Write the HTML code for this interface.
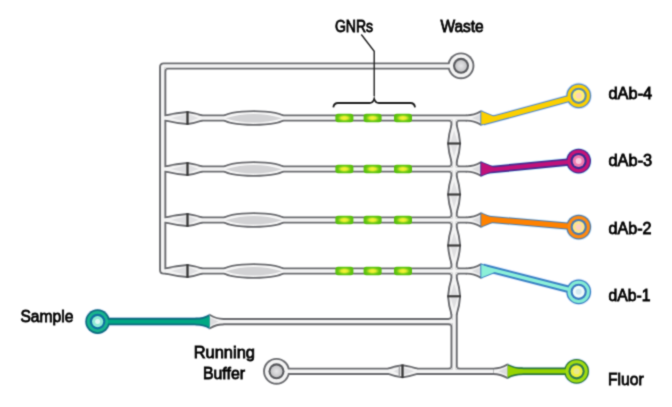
<!DOCTYPE html>
<html><head><meta charset="utf-8"><style>
html,body{margin:0;padding:0;background:#fff;}
#c{position:relative;width:672px;height:407px;overflow:hidden;background:#fff;}
svg{position:absolute;left:0;top:0;}
text{font-family:"Liberation Sans",sans-serif;font-size:16.5px;fill:#000;font-weight:normal;stroke:#000;stroke-width:0.8px;}
</style></head><body><div id="c"><svg width="672" height="407" viewBox="0 0 672 407"><defs><radialGradient id="gp" cx="50%" cy="50%" r="50%"><stop offset="0" stop-color="#e6e6e8"/><stop offset="1" stop-color="#c4c4c6"/></radialGradient><radialGradient id="gnr" cx="50%" cy="50%" r="50%"><stop offset="0" stop-color="#fbf43c"/><stop offset="0.35" stop-color="#e4ec2c"/><stop offset="0.72" stop-color="#6cc816"/><stop offset="1" stop-color="#56c00a"/></radialGradient><filter id="bl" x="0" y="0" width="100%" height="100%" color-interpolation-filters="sRGB"><feConvolveMatrix order="3" kernelMatrix="0.0276 0.1109 0.0276 0.1109 0.4462 0.1109 0.0276 0.1109 0.0276" divisor="1" edgeMode="duplicate"/></filter></defs><g filter="url(#bl)"><rect width="672" height="407" fill="#fff"/><path d="M467,271.0 H163.7 Q162.7,271.0 162.7,270.0 V67.0 Q162.7,66.0 163.7,66.0 H461" fill="none" stroke="#6b6c70" stroke-width="7.2" stroke-linejoin="round"/><path d="M162.7,118.0 H467" fill="none" stroke="#6b6c70" stroke-width="7.2" stroke-linejoin="round"/><path d="M162.7,169.0 H467" fill="none" stroke="#6b6c70" stroke-width="7.2" stroke-linejoin="round"/><path d="M162.7,220.0 H467" fill="none" stroke="#6b6c70" stroke-width="7.2" stroke-linejoin="round"/><path d="M454.1,118.0 V371.3" fill="none" stroke="#6b6c70" stroke-width="7.2" stroke-linejoin="round"/><path d="M209.5,321.6 H454.1" fill="none" stroke="#6b6c70" stroke-width="7.2" stroke-linejoin="round"/><path d="M276.5,371.3 H493" fill="none" stroke="#6b6c70" stroke-width="7.2" stroke-linejoin="round"/><path d="M448.3,121.6 L450.5,121.6 L450.5,123.8 A2.2,2.2 0 0 0 448.3,121.6 Z" fill="#6b6c70"/><path d="M459.9,121.6 L457.7,121.6 L457.7,123.8 A2.2,2.2 0 0 1 459.9,121.6 Z" fill="#6b6c70"/><path d="M448.3,165.4 L450.5,165.4 L450.5,163.2 A2.2,2.2 0 0 1 448.3,165.4 Z" fill="#6b6c70"/><path d="M459.9,165.4 L457.7,165.4 L457.7,163.2 A2.2,2.2 0 0 0 459.9,165.4 Z" fill="#6b6c70"/><path d="M448.3,172.6 L450.5,172.6 L450.5,174.8 A2.2,2.2 0 0 0 448.3,172.6 Z" fill="#6b6c70"/><path d="M459.9,172.6 L457.7,172.6 L457.7,174.8 A2.2,2.2 0 0 1 459.9,172.6 Z" fill="#6b6c70"/><path d="M448.3,216.4 L450.5,216.4 L450.5,214.2 A2.2,2.2 0 0 1 448.3,216.4 Z" fill="#6b6c70"/><path d="M459.9,216.4 L457.7,216.4 L457.7,214.2 A2.2,2.2 0 0 0 459.9,216.4 Z" fill="#6b6c70"/><path d="M448.3,223.6 L450.5,223.6 L450.5,225.8 A2.2,2.2 0 0 0 448.3,223.6 Z" fill="#6b6c70"/><path d="M459.9,223.6 L457.7,223.6 L457.7,225.8 A2.2,2.2 0 0 1 459.9,223.6 Z" fill="#6b6c70"/><path d="M448.3,267.4 L450.5,267.4 L450.5,265.2 A2.2,2.2 0 0 1 448.3,267.4 Z" fill="#6b6c70"/><path d="M459.9,267.4 L457.7,267.4 L457.7,265.2 A2.2,2.2 0 0 0 459.9,267.4 Z" fill="#6b6c70"/><path d="M448.3,274.6 L450.5,274.6 L450.5,276.8 A2.2,2.2 0 0 0 448.3,274.6 Z" fill="#6b6c70"/><path d="M459.9,274.6 L457.7,274.6 L457.7,276.8 A2.2,2.2 0 0 1 459.9,274.6 Z" fill="#6b6c70"/><path d="M448.3,318 L450.5,318 L450.5,315.8 A2.2,2.2 0 0 1 448.3,318 Z" fill="#6b6c70"/><path d="M448.3,325.2 L450.5,325.2 L450.5,327.4 A2.2,2.2 0 0 0 448.3,325.2 Z" fill="#6b6c70"/><path d="M448.3,367.7 L450.5,367.7 L450.5,365.5 A2.2,2.2 0 0 1 448.3,367.7 Z" fill="#6b6c70"/><path d="M459.9,367.7 L457.7,367.7 L457.7,365.5 A2.2,2.2 0 0 0 459.9,367.7 Z" fill="#6b6c70"/><path d="M168.5,69.6 L166.3,69.6 L166.3,71.8 A2.2,2.2 0 0 1 168.5,69.6 Z" fill="#6b6c70"/><path d="M166,116.3 Q176.75,113.65 187.5,112.9 Q194.5,113.92 201.5,116.3 L201.5,119.7 Q194.5,122.08 187.5,123.1 Q176.75,122.35 166,119.7 Z" fill="#6b6c70" stroke="#6b6c70" stroke-width="3.8" stroke-linejoin="round"/><ellipse cx="253.7" cy="118.0" rx="30.2" ry="5.9" fill="#6b6c70" stroke="#6b6c70" stroke-width="3.8"/><path d="M467,116.3 Q474.15,116.3 481.3,112.2 L481.3,123.8 Q474.15,119.7 467,119.7 Z" fill="#6b6c70" stroke="#6b6c70" stroke-width="3.8" stroke-linejoin="round"/><path d="M166,167.3 Q176.75,164.65 187.5,163.9 Q194.5,164.92 201.5,167.3 L201.5,170.7 Q194.5,173.08 187.5,174.1 Q176.75,173.35 166,170.7 Z" fill="#6b6c70" stroke="#6b6c70" stroke-width="3.8" stroke-linejoin="round"/><ellipse cx="253.7" cy="169.0" rx="30.2" ry="5.9" fill="#6b6c70" stroke="#6b6c70" stroke-width="3.8"/><path d="M467,167.3 Q474.15,167.3 481.3,163.2 L481.3,174.8 Q474.15,170.7 467,170.7 Z" fill="#6b6c70" stroke="#6b6c70" stroke-width="3.8" stroke-linejoin="round"/><path d="M166,218.3 Q176.75,215.65 187.5,214.9 Q194.5,215.92 201.5,218.3 L201.5,221.7 Q194.5,224.08 187.5,225.1 Q176.75,224.35 166,221.7 Z" fill="#6b6c70" stroke="#6b6c70" stroke-width="3.8" stroke-linejoin="round"/><ellipse cx="253.7" cy="220.0" rx="30.2" ry="5.9" fill="#6b6c70" stroke="#6b6c70" stroke-width="3.8"/><path d="M467,218.3 Q474.15,218.3 481.3,214.2 L481.3,225.8 Q474.15,221.7 467,221.7 Z" fill="#6b6c70" stroke="#6b6c70" stroke-width="3.8" stroke-linejoin="round"/><path d="M166,269.3 Q176.75,266.65 187.5,265.9 Q194.5,266.92 201.5,269.3 L201.5,272.7 Q194.5,275.08 187.5,276.1 Q176.75,275.35 166,272.7 Z" fill="#6b6c70" stroke="#6b6c70" stroke-width="3.8" stroke-linejoin="round"/><ellipse cx="253.7" cy="271.0" rx="30.2" ry="5.9" fill="#6b6c70" stroke="#6b6c70" stroke-width="3.8"/><path d="M467,269.3 Q474.15,269.3 481.3,265.2 L481.3,276.8 Q474.15,272.7 467,272.7 Z" fill="#6b6c70" stroke="#6b6c70" stroke-width="3.8" stroke-linejoin="round"/><path d="M452.4,125.6 Q449.61,134.55 449,143.5 Q449.61,152.45 452.4,161.4 L455.8,161.4 Q458.59,152.45 459.2,143.5 Q458.59,134.55 455.8,125.6 Z" fill="#6b6c70" stroke="#6b6c70" stroke-width="3.8" stroke-linejoin="round"/><path d="M452.4,176.6 Q449.61,185.55 449,194.5 Q449.61,203.45 452.4,212.4 L455.8,212.4 Q458.59,203.45 459.2,194.5 Q458.59,185.55 455.8,176.6 Z" fill="#6b6c70" stroke="#6b6c70" stroke-width="3.8" stroke-linejoin="round"/><path d="M452.4,227.6 Q449.61,236.55 449,245.5 Q449.61,254.45 452.4,263.4 L455.8,263.4 Q458.59,254.45 459.2,245.5 Q458.59,236.55 455.8,227.6 Z" fill="#6b6c70" stroke="#6b6c70" stroke-width="3.8" stroke-linejoin="round"/><path d="M452.4,278.6 Q449.61,287.45 449,296.3 Q449.61,305.15 452.4,314 L455.8,314 Q458.59,305.15 459.2,296.3 Q458.59,287.45 455.8,278.6 Z" fill="#6b6c70" stroke="#6b6c70" stroke-width="3.8" stroke-linejoin="round"/><path d="M223.3,319.9 Q216.4,319.9 209.5,315.8 L209.5,327.4 Q216.4,323.3 223.3,323.3 Z" fill="#6b6c70" stroke="#6b6c70" stroke-width="3.8" stroke-linejoin="round"/><path d="M388.5,369.6 Q395.5,366.95 402.5,366.2 Q409.75,367.22 417,369.6 L417,373 Q409.75,375.38 402.5,376.4 Q395.5,375.65 388.5,373 Z" fill="#6b6c70" stroke="#6b6c70" stroke-width="3.8" stroke-linejoin="round"/><path d="M493.4,369.6 Q500.55,369.6 507.7,365.5 L507.7,377.1 Q500.55,373 493.4,373 Z" fill="#6b6c70" stroke="#6b6c70" stroke-width="3.8" stroke-linejoin="round"/><circle cx="461" cy="65.8" r="13.4" fill="#6b6c70"/><circle cx="276.5" cy="371.3" r="13.4" fill="#6b6c70"/><path d="M467,271.0 H163.7 Q162.7,271.0 162.7,270.0 V67.0 Q162.7,66.0 163.7,66.0 H461" fill="none" stroke="#f4f4f4" stroke-width="3.4" stroke-linejoin="round"/><path d="M162.7,118.0 H467" fill="none" stroke="#f4f4f4" stroke-width="3.4" stroke-linejoin="round"/><path d="M162.7,169.0 H467" fill="none" stroke="#f4f4f4" stroke-width="3.4" stroke-linejoin="round"/><path d="M162.7,220.0 H467" fill="none" stroke="#f4f4f4" stroke-width="3.4" stroke-linejoin="round"/><path d="M454.1,118.0 V371.3" fill="none" stroke="#f4f4f4" stroke-width="3.4" stroke-linejoin="round"/><path d="M209.5,321.6 H454.1" fill="none" stroke="#f4f4f4" stroke-width="3.4" stroke-linejoin="round"/><path d="M276.5,371.3 H493" fill="none" stroke="#f4f4f4" stroke-width="3.4" stroke-linejoin="round"/><path d="M448.3,119.7 L452.4,119.7 L452.4,123.8 A4.1,4.1 0 0 0 448.3,119.7 Z" fill="#f4f4f4"/><path d="M459.9,119.7 L455.8,119.7 L455.8,123.8 A4.1,4.1 0 0 1 459.9,119.7 Z" fill="#f4f4f4"/><path d="M448.3,167.3 L452.4,167.3 L452.4,163.2 A4.1,4.1 0 0 1 448.3,167.3 Z" fill="#f4f4f4"/><path d="M459.9,167.3 L455.8,167.3 L455.8,163.2 A4.1,4.1 0 0 0 459.9,167.3 Z" fill="#f4f4f4"/><path d="M448.3,170.7 L452.4,170.7 L452.4,174.8 A4.1,4.1 0 0 0 448.3,170.7 Z" fill="#f4f4f4"/><path d="M459.9,170.7 L455.8,170.7 L455.8,174.8 A4.1,4.1 0 0 1 459.9,170.7 Z" fill="#f4f4f4"/><path d="M448.3,218.3 L452.4,218.3 L452.4,214.2 A4.1,4.1 0 0 1 448.3,218.3 Z" fill="#f4f4f4"/><path d="M459.9,218.3 L455.8,218.3 L455.8,214.2 A4.1,4.1 0 0 0 459.9,218.3 Z" fill="#f4f4f4"/><path d="M448.3,221.7 L452.4,221.7 L452.4,225.8 A4.1,4.1 0 0 0 448.3,221.7 Z" fill="#f4f4f4"/><path d="M459.9,221.7 L455.8,221.7 L455.8,225.8 A4.1,4.1 0 0 1 459.9,221.7 Z" fill="#f4f4f4"/><path d="M448.3,269.3 L452.4,269.3 L452.4,265.2 A4.1,4.1 0 0 1 448.3,269.3 Z" fill="#f4f4f4"/><path d="M459.9,269.3 L455.8,269.3 L455.8,265.2 A4.1,4.1 0 0 0 459.9,269.3 Z" fill="#f4f4f4"/><path d="M448.3,272.7 L452.4,272.7 L452.4,276.8 A4.1,4.1 0 0 0 448.3,272.7 Z" fill="#f4f4f4"/><path d="M459.9,272.7 L455.8,272.7 L455.8,276.8 A4.1,4.1 0 0 1 459.9,272.7 Z" fill="#f4f4f4"/><path d="M448.3,319.9 L452.4,319.9 L452.4,315.8 A4.1,4.1 0 0 1 448.3,319.9 Z" fill="#f4f4f4"/><path d="M448.3,323.3 L452.4,323.3 L452.4,327.4 A4.1,4.1 0 0 0 448.3,323.3 Z" fill="#f4f4f4"/><path d="M448.3,369.6 L452.4,369.6 L452.4,365.5 A4.1,4.1 0 0 1 448.3,369.6 Z" fill="#f4f4f4"/><path d="M459.9,369.6 L455.8,369.6 L455.8,365.5 A4.1,4.1 0 0 0 459.9,369.6 Z" fill="#f4f4f4"/><path d="M168.5,67.7 L164.4,67.7 L164.4,71.8 A4.1,4.1 0 0 1 168.5,67.7 Z" fill="#f4f4f4"/><path d="M166,116.3 Q176.75,113.65 187.5,112.9 Q194.5,113.92 201.5,116.3 L201.5,119.7 Q194.5,122.08 187.5,123.1 Q176.75,122.35 166,119.7 Z" fill="#f4f4f4"/><ellipse cx="253.7" cy="118.0" rx="30.2" ry="5.9" fill="#f6f6f6"/><path d="M467,116.3 Q474.15,116.3 481.3,112.2 L481.3,123.8 Q474.15,119.7 467,119.7 Z" fill="#f4f4f4"/><path d="M166,167.3 Q176.75,164.65 187.5,163.9 Q194.5,164.92 201.5,167.3 L201.5,170.7 Q194.5,173.08 187.5,174.1 Q176.75,173.35 166,170.7 Z" fill="#f4f4f4"/><ellipse cx="253.7" cy="169.0" rx="30.2" ry="5.9" fill="#f6f6f6"/><path d="M467,167.3 Q474.15,167.3 481.3,163.2 L481.3,174.8 Q474.15,170.7 467,170.7 Z" fill="#f4f4f4"/><path d="M166,218.3 Q176.75,215.65 187.5,214.9 Q194.5,215.92 201.5,218.3 L201.5,221.7 Q194.5,224.08 187.5,225.1 Q176.75,224.35 166,221.7 Z" fill="#f4f4f4"/><ellipse cx="253.7" cy="220.0" rx="30.2" ry="5.9" fill="#f6f6f6"/><path d="M467,218.3 Q474.15,218.3 481.3,214.2 L481.3,225.8 Q474.15,221.7 467,221.7 Z" fill="#f4f4f4"/><path d="M166,269.3 Q176.75,266.65 187.5,265.9 Q194.5,266.92 201.5,269.3 L201.5,272.7 Q194.5,275.08 187.5,276.1 Q176.75,275.35 166,272.7 Z" fill="#f4f4f4"/><ellipse cx="253.7" cy="271.0" rx="30.2" ry="5.9" fill="#f6f6f6"/><path d="M467,269.3 Q474.15,269.3 481.3,265.2 L481.3,276.8 Q474.15,272.7 467,272.7 Z" fill="#f4f4f4"/><path d="M452.4,125.6 Q449.61,134.55 449,143.5 Q449.61,152.45 452.4,161.4 L455.8,161.4 Q458.59,152.45 459.2,143.5 Q458.59,134.55 455.8,125.6 Z" fill="#f4f4f4"/><path d="M452.4,176.6 Q449.61,185.55 449,194.5 Q449.61,203.45 452.4,212.4 L455.8,212.4 Q458.59,203.45 459.2,194.5 Q458.59,185.55 455.8,176.6 Z" fill="#f4f4f4"/><path d="M452.4,227.6 Q449.61,236.55 449,245.5 Q449.61,254.45 452.4,263.4 L455.8,263.4 Q458.59,254.45 459.2,245.5 Q458.59,236.55 455.8,227.6 Z" fill="#f4f4f4"/><path d="M452.4,278.6 Q449.61,287.45 449,296.3 Q449.61,305.15 452.4,314 L455.8,314 Q458.59,305.15 459.2,296.3 Q458.59,287.45 455.8,278.6 Z" fill="#f4f4f4"/><path d="M223.3,319.9 Q216.4,319.9 209.5,315.8 L209.5,327.4 Q216.4,323.3 223.3,323.3 Z" fill="#f4f4f4"/><path d="M388.5,369.6 Q395.5,366.95 402.5,366.2 Q409.75,367.22 417,369.6 L417,373 Q409.75,375.38 402.5,376.4 Q395.5,375.65 388.5,373 Z" fill="#f4f4f4"/><path d="M493.4,369.6 Q500.55,369.6 507.7,365.5 L507.7,377.1 Q500.55,373 493.4,373 Z" fill="#f4f4f4"/><circle cx="461" cy="65.8" r="11.5" fill="#f4f4f4"/><circle cx="276.5" cy="371.3" r="11.5" fill="#f4f4f4"/><path d="M171,118 L186.5,114.1 L186.5,121.9 Z" fill="#e0e0e2"/><path d="M198.5,118 L188.5,114.1 L188.5,121.9 Z" fill="#e0e0e2"/><line x1="187.5" y1="111.3" x2="187.5" y2="124.7" stroke="#333" stroke-width="2.3"/><path d="M225.4,118.3 Q253.7,109.7 282,118.3 Q253.7,126.9 225.4,118.3 Z" fill="#d2d2d4"/><path d="M472,118 L481.3,113.7 L481.3,122.3 Z" fill="#dcdcde"/><path d="M171,169 L186.5,165.1 L186.5,172.9 Z" fill="#e0e0e2"/><path d="M198.5,169 L188.5,165.1 L188.5,172.9 Z" fill="#e0e0e2"/><line x1="187.5" y1="162.3" x2="187.5" y2="175.7" stroke="#333" stroke-width="2.3"/><path d="M225.4,169.3 Q253.7,160.7 282,169.3 Q253.7,177.9 225.4,169.3 Z" fill="#d2d2d4"/><path d="M472,169 L481.3,164.7 L481.3,173.3 Z" fill="#dcdcde"/><path d="M171,220 L186.5,216.1 L186.5,223.9 Z" fill="#e0e0e2"/><path d="M198.5,220 L188.5,216.1 L188.5,223.9 Z" fill="#e0e0e2"/><line x1="187.5" y1="213.3" x2="187.5" y2="226.7" stroke="#333" stroke-width="2.3"/><path d="M225.4,220.3 Q253.7,211.7 282,220.3 Q253.7,228.9 225.4,220.3 Z" fill="#d2d2d4"/><path d="M472,220 L481.3,215.7 L481.3,224.3 Z" fill="#dcdcde"/><path d="M171,271 L186.5,267.1 L186.5,274.9 Z" fill="#e0e0e2"/><path d="M198.5,271 L188.5,267.1 L188.5,274.9 Z" fill="#e0e0e2"/><line x1="187.5" y1="264.3" x2="187.5" y2="277.7" stroke="#333" stroke-width="2.3"/><path d="M225.4,271.3 Q253.7,262.7 282,271.3 Q253.7,279.9 225.4,271.3 Z" fill="#d2d2d4"/><path d="M472,271 L481.3,266.7 L481.3,275.3 Z" fill="#dcdcde"/><path d="M454.1,130.6 L450.5,142.5 L457.7,142.5 Z" fill="#dedee0"/><path d="M454.1,156.4 L450.5,144.5 L457.7,144.5 Z" fill="#dedee0"/><line x1="447.4" y1="143.5" x2="460.8" y2="143.5" stroke="#3a3a3a" stroke-width="2.2"/><path d="M454.1,181.6 L450.5,193.5 L457.7,193.5 Z" fill="#dedee0"/><path d="M454.1,207.4 L450.5,195.5 L457.7,195.5 Z" fill="#dedee0"/><line x1="447.4" y1="194.5" x2="460.8" y2="194.5" stroke="#3a3a3a" stroke-width="2.2"/><path d="M454.1,232.6 L450.5,244.5 L457.7,244.5 Z" fill="#dedee0"/><path d="M454.1,258.4 L450.5,246.5 L457.7,246.5 Z" fill="#dedee0"/><line x1="447.4" y1="245.5" x2="460.8" y2="245.5" stroke="#3a3a3a" stroke-width="2.2"/><path d="M454.1,283.6 L450.5,295.3 L457.7,295.3 Z" fill="#dedee0"/><path d="M454.1,309 L450.5,297.3 L457.7,297.3 Z" fill="#dedee0"/><line x1="447.4" y1="296.3" x2="460.8" y2="296.3" stroke="#3a3a3a" stroke-width="2.2"/><path d="M218.47,321.6 L209.5,317.3 L209.5,325.9 Z" fill="#dcdcde"/><path d="M393.5,371.3 L401.5,367.4 L401.5,375.2 Z" fill="#e0e0e2"/><path d="M414,371.3 L403.5,367.4 L403.5,375.2 Z" fill="#e0e0e2"/><line x1="402.5" y1="364.6" x2="402.5" y2="378" stroke="#333" stroke-width="2.3"/><line x1="399.3" y1="365.8" x2="399.3" y2="376.8" stroke="#9a9a9c" stroke-width="1.2"/><path d="M498.4,371.3 L507.7,367 L507.7,375.6 Z" fill="#dcdcde"/><circle cx="461" cy="65.8" r="8.0" fill="#58595d"/><circle cx="461" cy="65.8" r="5.9" fill="url(#gp)"/><circle cx="276.5" cy="371.3" r="8.0" fill="#58595d"/><circle cx="276.5" cy="371.3" r="5.9" fill="url(#gp)"/><path d="M481.3,109.8 L497.3,118 L481.3,126.2 Z" fill="#cfe4ff"/><path d="M482.8,121.95 L578.7,95.8" stroke="#cfe4ff" stroke-width="8.6" fill="none"/><circle cx="578.7" cy="95.8" r="13.200000000000001" fill="#cfe4ff"/><path d="M481.3,111.6 L497.3,118 L481.3,124.4 Z" fill="#5a8ac0" stroke="#5a8ac0" stroke-width="2.0" stroke-linejoin="round"/><path d="M482.8,121.95 L578.7,95.8" stroke="#5a8ac0" stroke-width="7.0" fill="none"/><circle cx="578.7" cy="95.8" r="12.4" fill="#5a8ac0"/><path d="M481.3,111.6 L497.3,118 L481.3,124.4 Z" fill="#fcd000"/><path d="M482.8,121.95 L578.7,95.8" stroke="#fcd000" stroke-width="5.0" fill="none"/><circle cx="578.7" cy="95.8" r="11.1" fill="#fcd000"/><circle cx="578.7" cy="95.8" r="8.1" fill="#5a8aa8"/><circle cx="578.7" cy="95.8" r="6.0" fill="#fff070"/><circle cx="578.7" cy="95.8" r="3.0" fill="#fcd4b4"/><path d="M481.3,160.8 L497.3,169 L481.3,177.2 Z" fill="#c8f4ff"/><path d="M482.8,170.41 L578.6,161.1" stroke="#c8f4ff" stroke-width="9.0" fill="none"/><circle cx="578.6" cy="161.1" r="13.200000000000001" fill="#c8f4ff"/><path d="M481.3,162.6 L497.3,169 L481.3,175.4 Z" fill="#4a2a90" stroke="#4a2a90" stroke-width="2.0" stroke-linejoin="round"/><path d="M482.8,170.41 L578.6,161.1" stroke="#4a2a90" stroke-width="7.4" fill="none"/><circle cx="578.6" cy="161.1" r="12.4" fill="#4a2a90"/><path d="M481.3,162.6 L497.3,169 L481.3,175.4 Z" fill="#c0127a"/><path d="M482.8,170.41 L578.6,161.1" stroke="#c0127a" stroke-width="4.0" fill="none"/><circle cx="578.6" cy="161.1" r="11.1" fill="#c81478"/><circle cx="578.6" cy="161.1" r="8.1" fill="#3a2a90"/><circle cx="578.6" cy="161.1" r="6.0" fill="#f07ab0"/><circle cx="578.6" cy="161.1" r="3.0" fill="#f8c8e0"/><path d="M481.3,211.8 L497.3,220 L481.3,228.2 Z" fill="#d0ecff"/><path d="M482.8,218.74 L578.7,227.1" stroke="#d0ecff" stroke-width="8.6" fill="none"/><circle cx="578.7" cy="227.1" r="13.200000000000001" fill="#d0ecff"/><path d="M481.3,213.6 L497.3,220 L481.3,226.4 Z" fill="#5a7aa0" stroke="#5a7aa0" stroke-width="2.0" stroke-linejoin="round"/><path d="M482.8,218.74 L578.7,227.1" stroke="#5a7aa0" stroke-width="7.0" fill="none"/><circle cx="578.7" cy="227.1" r="12.4" fill="#5a7aa0"/><path d="M481.3,213.6 L497.3,220 L481.3,226.4 Z" fill="#ff8200"/><path d="M482.8,218.74 L578.7,227.1" stroke="#ff8200" stroke-width="5.0" fill="none"/><circle cx="578.7" cy="227.1" r="11.1" fill="#ff8a10"/><circle cx="578.7" cy="227.1" r="8.1" fill="#4a7ab0"/><circle cx="578.7" cy="227.1" r="6.0" fill="#fde48a"/><circle cx="578.7" cy="227.1" r="3.0" fill="#fcd0c4"/><path d="M481.3,262.8 L497.3,271 L481.3,279.2 Z" fill="#e4ecff"/><path d="M482.8,267.29 L578.7,291.8" stroke="#e4ecff" stroke-width="9.0" fill="none"/><circle cx="578.7" cy="291.8" r="13.200000000000001" fill="#e4ecff"/><path d="M481.3,264.6 L497.3,271 L481.3,277.4 Z" fill="#3a82c4" stroke="#3a82c4" stroke-width="2.0" stroke-linejoin="round"/><path d="M482.8,267.29 L578.7,291.8" stroke="#3a82c4" stroke-width="7.4" fill="none"/><circle cx="578.7" cy="291.8" r="12.4" fill="#3a82c4"/><path d="M481.3,264.6 L497.3,271 L481.3,277.4 Z" fill="#8cf0d8"/><path d="M482.8,267.29 L578.7,291.8" stroke="#8cf0d8" stroke-width="3.4" fill="none"/><circle cx="578.7" cy="291.8" r="11.1" fill="#84ecd4"/><circle cx="578.7" cy="291.8" r="8.1" fill="#3a7ac0"/><circle cx="578.7" cy="291.8" r="6.0" fill="#f0fbfb"/><circle cx="578.7" cy="291.8" r="3.0" fill="#d4eaf2"/><path d="M507.7,363.1 Q514.45,366.8 522.7,366.8 L522.7,375.8 Q514.45,375.8 507.7,379.5 Z" fill="#dce8ff"/><path d="M509.2,371.3 L576.6,371.3" stroke="#dce8ff" stroke-width="9.0" fill="none"/><circle cx="576.6" cy="371.3" r="13.200000000000001" fill="#dce8ff"/><path d="M507.7,363.9 Q514.45,367.6 522.7,367.6 L522.7,375 Q514.45,375 507.7,378.7 Z" fill="#2f7a3a"/><path d="M509.2,371.3 L576.6,371.3" stroke="#2f7a3a" stroke-width="7.4" fill="none"/><circle cx="576.6" cy="371.3" r="12.4" fill="#2f7a3a"/><path d="M507.7,365.6 Q514.45,369.3 522.7,369.3 L522.7,373.3 Q514.45,373.3 507.7,377 Z" fill="#96d400"/><path d="M509.2,371.3 L576.6,371.3" stroke="#96d400" stroke-width="4.0" fill="none"/><circle cx="576.6" cy="371.3" r="11.1" fill="#a0dc10"/><circle cx="576.6" cy="371.3" r="8.1" fill="#2f7a50"/><circle cx="576.6" cy="371.3" r="6.0" fill="#f0f040"/><circle cx="576.6" cy="371.3" r="3.0" fill="#e8e890"/><path d="M209.5,313.4 Q203.2,317.05 195.5,317.05 L195.5,326.15 Q203.2,326.15 209.5,329.8 Z" fill="#e4e8ff"/><path d="M208,321.6 L97.6,321.6" stroke="#e4e8ff" stroke-width="9.1" fill="none"/><circle cx="97.6" cy="321.6" r="13.100000000000001" fill="#e4e8ff"/><path d="M209.5,314.2 Q203.2,317.85 195.5,317.85 L195.5,325.35 Q203.2,325.35 209.5,329 Z" fill="#0e6e80"/><path d="M208,321.6 L97.6,321.6" stroke="#0e6e80" stroke-width="7.5" fill="none"/><circle cx="97.6" cy="321.6" r="12.3" fill="#0e6e80"/><path d="M209.5,316.15 Q203.2,319.8 195.5,319.8 L195.5,323.4 Q203.2,323.4 209.5,327.05 Z" fill="#00a884"/><path d="M208,321.6 L97.6,321.6" stroke="#00a884" stroke-width="3.6" fill="none"/><circle cx="97.6" cy="321.6" r="10.6" fill="#18b48e"/><circle cx="97.6" cy="321.6" r="7.8" fill="#1070a0"/><circle cx="97.6" cy="321.6" r="5.6" fill="#90ecd4"/><circle cx="97.6" cy="321.6" r="2.5" fill="#e0f8f4"/><rect x="335.4" y="113.8" width="18" height="8.4" rx="2.6" fill="url(#gnr)"/><rect x="363.6" y="113.8" width="18" height="8.4" rx="2.6" fill="url(#gnr)"/><rect x="394" y="113.8" width="18" height="8.4" rx="2.6" fill="url(#gnr)"/><rect x="335.4" y="164.8" width="18" height="8.4" rx="2.6" fill="url(#gnr)"/><rect x="363.6" y="164.8" width="18" height="8.4" rx="2.6" fill="url(#gnr)"/><rect x="394" y="164.8" width="18" height="8.4" rx="2.6" fill="url(#gnr)"/><rect x="335.4" y="215.8" width="18" height="8.4" rx="2.6" fill="url(#gnr)"/><rect x="363.6" y="215.8" width="18" height="8.4" rx="2.6" fill="url(#gnr)"/><rect x="394" y="215.8" width="18" height="8.4" rx="2.6" fill="url(#gnr)"/><rect x="335.4" y="266.8" width="18" height="8.4" rx="2.6" fill="url(#gnr)"/><rect x="363.6" y="266.8" width="18" height="8.4" rx="2.6" fill="url(#gnr)"/><rect x="394" y="266.8" width="18" height="8.4" rx="2.6" fill="url(#gnr)"/><path d="M361.3,34.5 L374.2,51.3 V96.2" fill="none" stroke="#222" stroke-width="1.4"/><path d="M333.3,107.3 Q334,103 338,103 H369.5 Q373,103 374.2,99.0 Q375.4,103 378.9,103 H410.5 Q414.5,103 415,107.3" fill="none" stroke="#1e1e1e" stroke-width="1.8" stroke-linejoin="miter"/><text transform="translate(334.9,31.9) scale(0.8511,1)" x="0" y="0">GNRs</text><text transform="translate(440.4,31.9) scale(0.9391,1)" x="0" y="0">Waste</text><text transform="translate(608.5,98.75) scale(0.9932,1)" x="0" y="0">dAb-4</text><text transform="translate(608.5,166.4) scale(0.9932,1)" x="0" y="0">dAb-3</text><text transform="translate(608.5,233.9) scale(0.9773,1)" x="0" y="0">dAb-2</text><text transform="translate(608.5,301) scale(0.9523,1)" x="0" y="0">dAb-1</text><text transform="translate(608.05,385.1) scale(0.9486,1)" x="0" y="0">Fluor</text><text transform="translate(20.4,321.7) scale(0.9482,1)" x="0" y="0">Sample</text><text transform="translate(193.7,357.8) scale(0.9967,1)" x="0" y="0">Running</text><text transform="translate(202.94,379.3) scale(0.9628,1)" x="0" y="0">Buffer</text></g></svg></div></body></html>
